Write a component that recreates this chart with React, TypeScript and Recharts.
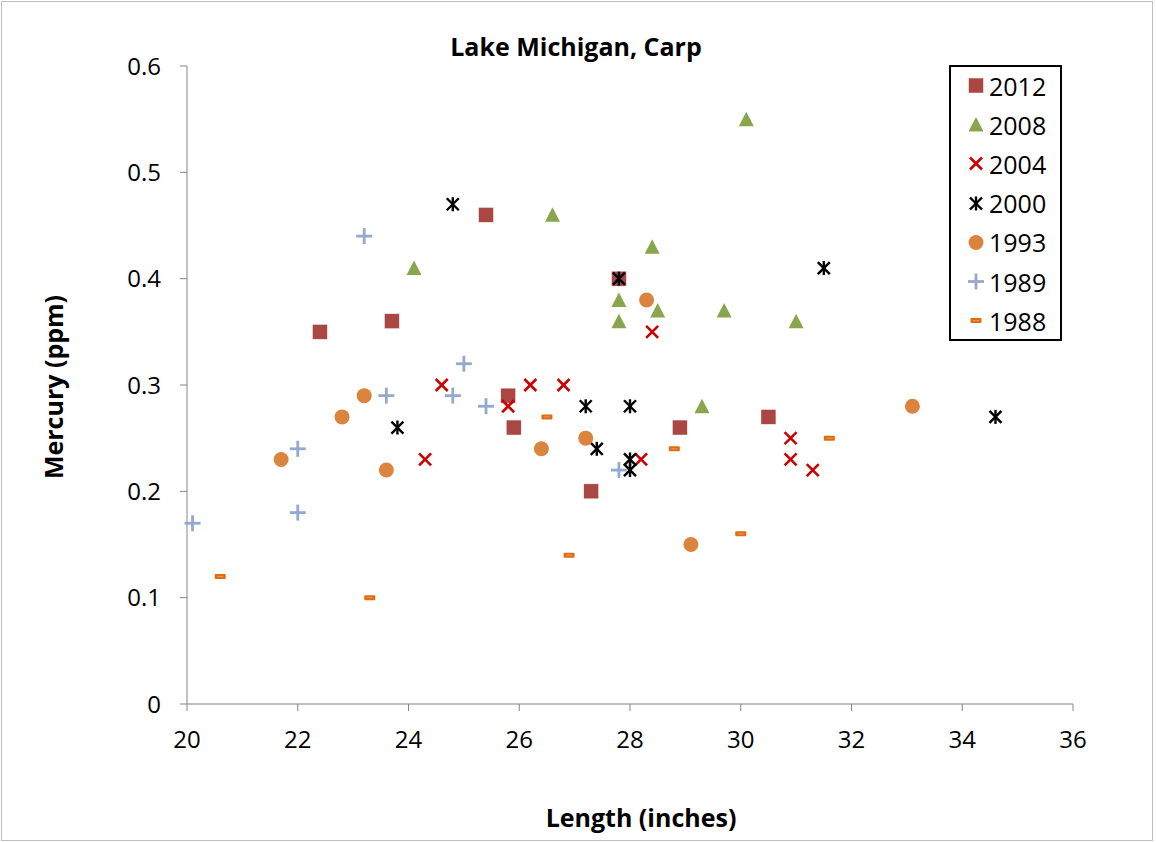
import React from "react";
import {
  ScatterChart,
  Scatter,
  XAxis,
  YAxis,
} from "recharts";

const FONT = "'Open Sans', Lato, sans-serif";

const s2012 = [
  { x: 22.4, y: 0.35 }, { x: 23.7, y: 0.36 }, { x: 25.4, y: 0.46 },
  { x: 25.8, y: 0.29 }, { x: 25.9, y: 0.26 }, { x: 27.3, y: 0.2 },
  { x: 27.8, y: 0.4 }, { x: 28.9, y: 0.26 }, { x: 30.5, y: 0.27 },
];
const s2008 = [
  { x: 24.1, y: 0.41 }, { x: 26.6, y: 0.46 }, { x: 27.8, y: 0.38 },
  { x: 27.8, y: 0.36 }, { x: 28.4, y: 0.43 }, { x: 28.5, y: 0.37 },
  { x: 29.3, y: 0.28 }, { x: 29.7, y: 0.37 }, { x: 30.1, y: 0.55 },
  { x: 31.0, y: 0.36 },
];
const s2004 = [
  { x: 24.3, y: 0.23 }, { x: 24.6, y: 0.3 }, { x: 25.8, y: 0.28 },
  { x: 26.2, y: 0.3 }, { x: 26.8, y: 0.3 }, { x: 28.2, y: 0.23 },
  { x: 28.4, y: 0.35 }, { x: 30.9, y: 0.25 }, { x: 30.9, y: 0.23 },
  { x: 31.3, y: 0.22 },
];
const s2000 = [
  { x: 23.8, y: 0.26 }, { x: 24.8, y: 0.47 }, { x: 27.2, y: 0.28 },
  { x: 27.4, y: 0.24 }, { x: 27.8, y: 0.4 }, { x: 28.0, y: 0.28 },
  { x: 28.0, y: 0.23 }, { x: 28.0, y: 0.22 }, { x: 31.5, y: 0.41 },
  { x: 34.6, y: 0.27 },
];
const s1993 = [
  { x: 21.7, y: 0.23 }, { x: 22.8, y: 0.27 }, { x: 23.2, y: 0.29 },
  { x: 23.6, y: 0.22 }, { x: 26.4, y: 0.24 }, { x: 27.2, y: 0.25 },
  { x: 28.3, y: 0.38 }, { x: 29.1, y: 0.15 }, { x: 33.1, y: 0.28 },
];
const s1989 = [
  { x: 20.1, y: 0.17 }, { x: 22.0, y: 0.24 }, { x: 22.0, y: 0.18 },
  { x: 23.2, y: 0.44 }, { x: 23.6, y: 0.29 }, { x: 24.8, y: 0.29 },
  { x: 25.0, y: 0.32 }, { x: 25.4, y: 0.28 }, { x: 27.8, y: 0.22 },
];
const s1988 = [
  { x: 20.6, y: 0.12 }, { x: 23.3, y: 0.1 }, { x: 26.5, y: 0.27 },
  { x: 26.9, y: 0.14 }, { x: 28.8, y: 0.24 }, { x: 30.0, y: 0.16 },
  { x: 31.6, y: 0.25 },
];

const xTicks = [20, 22, 24, 26, 28, 30, 32, 34, 36];
const yTicks = [0, 0.1, 0.2, 0.3, 0.4, 0.5, 0.6];

const Square = ({ cx, cy }: any) => (
  <rect x={cx - 7.5} y={cy - 7.5} width={15} height={15} fill="#aa4643" stroke="#fff" strokeWidth={0.5} />
);
const Triangle = ({ cx, cy }: any) => (
  <polygon points={`${cx},${cy - 7.5} ${cx + 7.5},${cy + 7} ${cx - 7.5},${cy + 7}`} fill="#89a54e" />
);
const Cross = ({ cx, cy }: any) => (
  <g stroke="#cc0000" strokeWidth={2.6}>
    <line x1={cx - 6} y1={cy - 6} x2={cx + 6} y2={cy + 6} />
    <line x1={cx - 6} y1={cy + 6} x2={cx + 6} y2={cy - 6} />
  </g>
);
const Star = ({ cx, cy }: any) => (
  <g stroke="#000" strokeWidth={2.4}>
    <line x1={cx - 6} y1={cy - 6} x2={cx + 6} y2={cy + 6} />
    <line x1={cx - 6} y1={cy + 6} x2={cx + 6} y2={cy - 6} />
    <line x1={cx} y1={cy - 7} x2={cx} y2={cy + 7} />
  </g>
);
const Dot = ({ cx, cy }: any) => <circle cx={cx} cy={cy} r={7.5} fill="#db843d" />;
const Plus = ({ cx, cy }: any) => (
  <g stroke="#93a9cf" strokeWidth={2.8}>
    <line x1={cx - 8} y1={cy} x2={cx + 8} y2={cy} />
    <line x1={cx} y1={cy - 8} x2={cx} y2={cy + 8} />
  </g>
);
const Dash = ({ cx, cy }: any) => (
  <g>
    <rect x={cx - 5.5} y={cy - 2.5} width={11} height={5} rx={1} fill="#e46c0a" />
    <line x1={cx - 3} y1={cy} x2={cx + 3} y2={cy} stroke="#d99a8a" strokeWidth={1} />
  </g>
);

const series = [
  { name: "2012", data: s2012, shape: Square },
  { name: "2008", data: s2008, shape: Triangle },
  { name: "2004", data: s2004, shape: Cross },
  { name: "2000", data: s2000, shape: Star },
  { name: "1993", data: s1993, shape: Dot },
  { name: "1989", data: s1989, shape: Plus },
  { name: "1988", data: s1988, shape: Dash },
];

// legend drawn as a plain box, Excel style
const LegendBox = () => (
  <div
    style={{
      position: "absolute",
      left: 949,
      top: 65,
      border: "2px solid #000",
      width: 113,
      height: 276,
      boxSizing: "border-box",
      background: "#fff",
    }}
  >
    <div style={{ position: "relative", top: -1 }}>
      {series.map((s) => {
        const Shape = s.shape;
        return (
          <div key={s.name} style={{ display: "flex", alignItems: "center", height: 39.2 }}>
            <svg width={38} height={39}>
              <Shape cx={25} cy={19.5} />
            </svg>
            <span style={{ fontFamily: FONT, fontSize: 25, lineHeight: "34px", color: "#000" }}>
              {s.name}
            </span>
          </div>
        );
      })}
    </div>
  </div>
);

export default function App() {
  return (
    <div
      style={{
        position: "absolute",
        left: 0,
        top: 0,
        width: 1156,
        height: 842,
        background: "#fff",
        fontFamily: FONT,
      }}
    >
      <div
        style={{
          position: "absolute",
          left: 1,
          top: 1,
          width: 1150,
          height: 838,
          border: "1px solid #bfbfbf",
        }}
      />
      <div style={{ position: "absolute", left: 0, top: 0 }}>
        <ScatterChart
          width={1156}
          height={842}
          margin={{ top: 66, right: 83, left: 127, bottom: 98 }}
        >
          <XAxis
            type="number"
            dataKey="x"
            domain={[20, 36]}
            ticks={xTicks}
            stroke="#868686"
            tickSize={7}
            tickMargin={20}
            height={40}
            tick={{ fill: "#000", fontSize: 24, fontFamily: FONT }}
          />
          <YAxis
            type="number"
            dataKey="y"
            domain={[0, 0.6]}
            ticks={yTicks}
            stroke="#868686"
            tickSize={7}
            tickMargin={19}
            width={60}
            tick={{ fill: "#000", fontSize: 24, fontFamily: FONT }}
          />
          {series.map((s) => (
            <Scatter
              key={s.name}
              name={s.name}
              data={s.data}
              shape={s.shape}
              isAnimationActive={false}
            />
          ))}
        </ScatterChart>
      </div>
      <LegendBox />
      <div
        style={{
          position: "absolute",
          left: 376,
          width: 400,
          top: 29,
          lineHeight: "34px",
          textAlign: "center",
          fontSize: 25,
          fontWeight: "bold",
        }}
      >
        Lake Michigan, Carp
      </div>
      <div
        style={{
          position: "absolute",
          left: 441,
          width: 400,
          top: 800,
          lineHeight: "34px",
          textAlign: "center",
          fontSize: 25,
          fontWeight: "bold",
        }}
      >
        Length (inches)
      </div>
      <div
        style={{
          position: "absolute",
          left: 53 - 150,
          top: 387 - 17,
          width: 300,
          height: 34,
          lineHeight: "34px",
          textAlign: "center",
          fontSize: 25,
          fontWeight: "bold",
          transform: "rotate(-90deg)",
        }}
      >
        Mercury (ppm)
      </div>
    </div>
  );
}
